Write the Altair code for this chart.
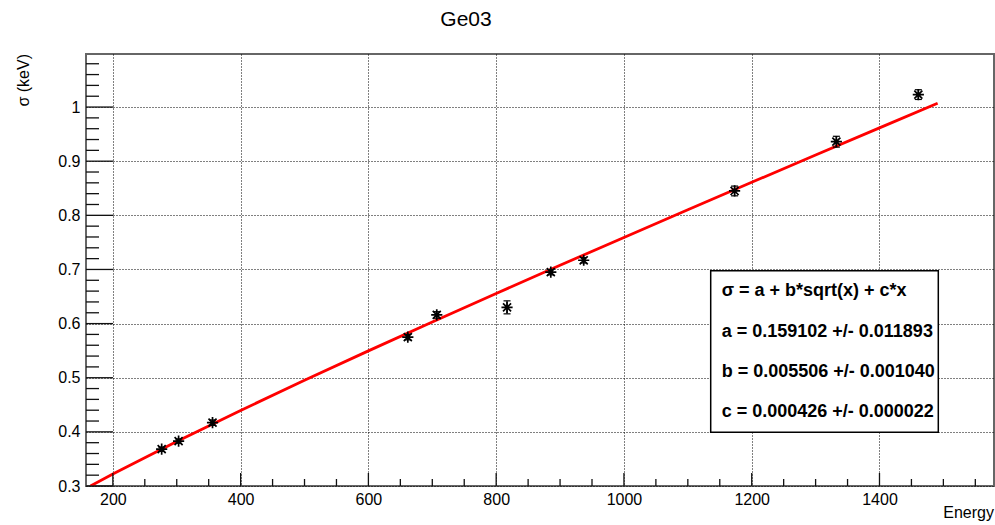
import altair as alt
import pandas as pd

# ---- data ----
energy = [276.4, 302.9, 356.0, 661.7, 707.0, 817.0, 885.5, 937.0, 1173.2, 1332.5, 1460.8]
sigma = [0.368, 0.383, 0.417, 0.575, 0.616, 0.630, 0.695, 0.717, 0.845, 0.936, 1.023]
sigma_err = [0.004, 0.004, 0.005, 0.005, 0.006, 0.012, 0.005, 0.005, 0.009, 0.010, 0.009]

fit_x = [165, 200, 300, 400, 500, 600, 700, 800, 900, 1000, 1100, 1200, 1300, 1400, 1491]
fit_y = [0.300, 0.3222, 0.3823, 0.4396, 0.4952, 0.5496, 0.6030, 0.6556, 0.7077,
         0.7592, 0.8103, 0.8610, 0.9114, 0.9615, 1.0069]

x_major = [200, 400, 600, 800, 1000, 1200, 1400]
x_minor = [250, 300, 350, 450, 500, 550, 650, 700, 750, 850, 900, 950, 1050, 1100,
           1150, 1250, 1300, 1350, 1450, 1500, 1550]
y_major = [0.3, 0.4, 0.5, 0.6, 0.7, 0.8, 0.9, 1.0]
y_minor = [0.32, 0.34, 0.36, 0.38, 0.42, 0.44, 0.46, 0.48, 0.52, 0.54, 0.56, 0.58,
           0.62, 0.64, 0.66, 0.68, 0.72, 0.74, 0.76, 0.78, 0.82, 0.84, 0.86, 0.88,
           0.92, 0.94, 0.96, 0.98, 1.02, 1.04, 1.06, 1.08]

stat_lines = ["σ = a + b*sqrt(x) + c*x",
              "a = 0.159102 +/- 0.011893",
              "b = 0.005506 +/- 0.001040",
              "c = 0.000426 +/- 0.000022"]

title_text = "Ge03"
x_title = "Energy"
y_title = "σ (keV)"

# ---- tables ----
pts = pd.DataFrame({"x": energy, "y": sigma,
                    "lo": [s - e for s, e in zip(sigma, sigma_err)],
                    "hi": [s + e for s, e in zip(sigma, sigma_err)]})
fit = pd.DataFrame({"x": fit_x, "y": fit_y})
xmaj = pd.DataFrame({"x": x_major})
xmin = pd.DataFrame({"x": x_minor})
ymaj = pd.DataFrame({"y": y_major})
ymin = pd.DataFrame({"y": y_minor})
one = pd.DataFrame({"k": [0]})

W, H = 908, 432
FONT = "Liberation Sans"

xscale = alt.Scale(domain=[157.96, 1579.24], nice=False, zero=False)
yscale = alt.Scale(domain=[0.3, 1.098], nice=False, zero=False)

xaxis = alt.Axis(values=x_major, format="d", title=None, ticks=False, tickSize=0,
                 domain=False, grid=True, gridDash=[1, 2], gridColor="#000",
                 gridOpacity=1, gridWidth=1, labelFont=FONT, labelFontSize=16,
                 labelColor="#000", labelPadding=5, labelFlush=False)
yaxis = alt.Axis(values=y_major, format=".1~f", title=None, ticks=False, tickSize=0,
                 domain=False, grid=True, gridDash=[1, 2], gridColor="#000",
                 gridOpacity=1, gridWidth=1, labelFont=FONT, labelFontSize=16,
                 labelColor="#000", labelPadding=6, labelFlush=False)

X = alt.X("x:Q", scale=xscale, axis=xaxis)
Y = alt.Y("y:Q", scale=yscale, axis=yaxis)

fit_line = alt.Chart(fit).mark_line(color="#ff0000", strokeWidth=2.8, clip=True).encode(x=X, y=Y)

err_bar = alt.Chart(pts).mark_rule(color="#000", strokeWidth=1.2).encode(
    x=X, y=alt.Y("lo:Q", scale=yscale, axis=yaxis), y2="hi:Q")
cap_hi = alt.Chart(pts).mark_rule(color="#000", strokeWidth=1.2, xOffset=-3.5, x2Offset=3.5).encode(
    x=X, x2="x:Q", y=alt.Y("hi:Q", scale=yscale, axis=yaxis))
cap_lo = alt.Chart(pts).mark_rule(color="#000", strokeWidth=1.2, xOffset=-3.5, x2Offset=3.5).encode(
    x=X, x2="x:Q", y=alt.Y("lo:Q", scale=yscale, axis=yaxis))

star = "M-1,0L1,0M0,-1L0,1M-0.72,-0.72L0.72,0.72M-0.72,0.72L0.72,-0.72"
points = alt.Chart(pts).mark_point(shape=star, size=125, filled=False, color="#000",
                                   strokeWidth=1.7, opacity=1).encode(x=X, y=Y)

xt_major = alt.Chart(xmaj).mark_rule(color="#111", strokeWidth=1.3).encode(
    x=X, y=alt.value(H), y2=alt.value(H - 13))
xt_minor = alt.Chart(xmin).mark_rule(color="#111", strokeWidth=1.3).encode(
    x=X, y=alt.value(H), y2=alt.value(H - 7))
yt_major = alt.Chart(ymaj).mark_rule(color="#111", strokeWidth=1.3).encode(
    y=Y, x=alt.value(0), x2=alt.value(27))
yt_minor = alt.Chart(ymin).mark_rule(color="#111", strokeWidth=1.3).encode(
    y=Y, x=alt.value(0), x2=alt.value(13))

box = alt.Chart(one).mark_rect(fill="#fff", stroke="#000", strokeWidth=1.5).encode(
    x=alt.value(624.7), x2=alt.value(852.3), y=alt.value(216.7), y2=alt.value(378.3))

stat_y = [236.7, 278.0, 317.5, 357.7]
stat_layers = [
    alt.Chart(one).mark_text(text=t, font=FONT, fontSize=18, fontWeight="bold",
                             align="left", baseline="middle", color="#000").encode(
        x=alt.value(635.7), y=alt.value(yy))
    for t, yy in zip(stat_lines, stat_y)
]

title = alt.Chart(one).mark_text(text=title_text, font=FONT, fontSize=21, align="center",
                                 baseline="middle", color="#000").encode(
    x=alt.value(380), y=alt.value(-34))
xlab = alt.Chart(one).mark_text(text=x_title, font=FONT, fontSize=16, align="right",
                                baseline="alphabetic", color="#000").encode(
    x=alt.value(W), y=alt.value(464))
ylab = alt.Chart(one).mark_text(text=y_title, font=FONT, fontSize=16, align="right",
                                baseline="middle", angle=270, color="#000").encode(
    x=alt.value(-62), y=alt.value(0))

chart = alt.layer(
    fit_line, err_bar, cap_hi, cap_lo, points,
    xt_major, xt_minor, yt_major, yt_minor,
    box, *stat_layers, title, xlab, ylab
).properties(
    width=W, height=H,
    padding={"left": 86, "top": 54, "right": 1, "bottom": 39},
    autosize=alt.AutoSizeParams(type="none"),
    background="#fff",
).configure_view(stroke="#666", strokeWidth=2)

chart.save("out.html", embed_options={"renderer": "svg", "actions": False})
